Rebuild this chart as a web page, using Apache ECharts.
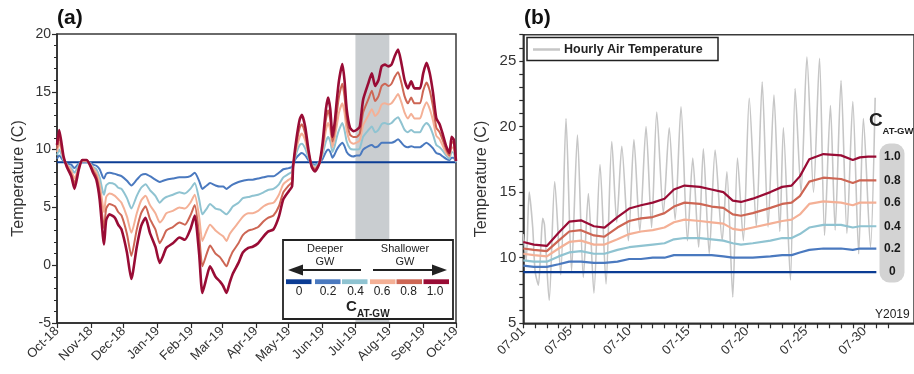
<!DOCTYPE html>
<html>
<head>
<meta charset="utf-8">
<script src="https://cdn.jsdelivr.net/npm/echarts@6/dist/echarts.min.js"></script>
<style>
  html, body { margin: 0; padding: 0; background: #fff; }
  #main { width: 914px; height: 374px; }
</style>
</head>
<body>
<div id="main"></div>
<script>
// ---- panel (a): daily series, x = days since 2018-10-01 ----
const monthStart = [0, 31, 61, 92, 123, 151, 182, 212, 243, 273, 304, 335, 365];
const monthNames = ['Oct-18', 'Nov-18', 'Dec-18', 'Jan-19', 'Feb-19', 'Mar-19', 'Apr-19',
  'May-19', 'Jun-19', 'Jul-19', 'Aug-19', 'Sep-19', 'Oct-19'];
const bandDays = [273, 304]; // Jul-19 .. Aug-19 shaded
const gwTemp = 8.9;

const daysA = [0, 2, 6, 9, 13, 16, 20, 23, 27, 30, 33, 36, 39, 42, 43, 45, 48, 53, 56, 59,
  64, 68, 73, 77, 81, 85, 90, 94, 97, 100, 106, 112, 117, 122, 126, 130, 133, 137, 140, 145,
  149, 152, 155, 158, 161, 166, 170, 175, 179, 184, 189, 193, 198, 203, 207, 212, 215, 216, 219, 222,
  224, 227, 230, 233, 236, 240, 243, 246, 248, 250, 252, 254, 256, 258, 261, 263, 265, 268, 271, 274,
  277, 280, 285, 288, 291, 294, 297, 300, 303, 306, 309, 312, 315, 318, 321, 324, 327, 332, 335, 338,
  341, 344, 347, 350, 353, 356, 359, 361, 363, 365];

const a02 = [9.2, 9.5, 9.0, 8.8, 8.7, 8.4, 8.8, 8.9, 8.9, 8.9, 8.7, 8.6, 8.3, 7.6, 7.5, 7.9, 8.0, 7.9, 7.8, 7.7,
  7.3, 6.9, 7.4, 7.8, 7.9, 7.7, 7.4, 7.2, 7.3, 7.4, 7.5, 7.6, 7.6, 7.7, 8.0, 7.3, 6.6, 6.9, 7.1, 6.9,
  6.8, 6.8, 6.6, 6.8, 7.0, 7.2, 7.3, 7.4, 7.4, 7.5, 7.6, 7.7, 7.7, 8.0, 8.3, 8.4, 8.5, 8.8, 9.3, 9.6,
  9.7, 9.5, 9.1, 8.8, 8.7, 8.9, 9.2, 9.8, 10.0, 9.8, 9.3, 9.6, 10.0, 10.3, 10.6, 10.3, 9.8, 9.5, 9.4, 9.5,
  9.5, 10.0, 10.3, 10.4, 10.2, 10.3, 10.6, 10.6, 10.6, 10.6, 10.7, 10.9, 10.6, 10.3, 10.2, 10.3, 10.2, 10.2, 10.4, 10.6,
  10.4, 10.1, 9.7, 9.6, 9.4, 9.2, 9.1, 9.3, 9.3, 8.9];
const a04 = [9.5, 10.0, 9.1, 8.7, 8.4, 8.0, 8.7, 9.0, 9.0, 8.8, 8.5, 8.3, 7.6, 6.3, 6.1, 6.9, 7.1, 7.0, 6.7, 6.6,
  5.8, 4.9, 6.0, 6.7, 7.0, 6.5, 6.0, 5.4, 5.7, 5.9, 6.1, 6.3, 6.2, 6.6, 7.1, 5.7, 4.4, 4.9, 5.3, 4.9,
  4.8, 4.6, 4.4, 4.7, 5.1, 5.4, 5.8, 5.9, 6.0, 6.1, 6.3, 6.5, 6.6, 7.0, 7.6, 7.9, 8.1, 8.7, 9.7, 10.4,
  10.5, 10.1, 9.3, 8.7, 8.6, 8.9, 9.6, 10.7, 11.1, 10.7, 9.8, 10.3, 11.1, 11.7, 12.3, 11.7, 10.7, 10.1, 10.0, 10.0,
  10.1, 11.1, 11.7, 12.0, 11.5, 11.7, 12.2, 12.3, 12.2, 12.3, 12.6, 12.8, 12.3, 11.7, 11.5, 11.7, 11.5, 11.5, 12.0, 12.3,
  12.0, 11.3, 10.4, 10.2, 9.9, 9.5, 9.2, 9.8, 9.7, 8.9];
const a06 = [9.8, 10.6, 9.2, 8.7, 8.2, 7.5, 8.5, 9.0, 9.0, 8.8, 8.4, 8.0, 7.0, 5.1, 4.6, 5.9, 6.2, 6.0, 5.7, 5.4,
  4.2, 2.8, 4.5, 5.6, 6.0, 5.2, 4.5, 3.7, 4.0, 4.5, 4.7, 5.0, 4.9, 5.4, 6.1, 4.2, 2.1, 3.0, 3.5, 3.0,
  2.7, 2.5, 2.1, 2.7, 3.1, 3.7, 4.2, 4.5, 4.5, 4.7, 5.1, 5.3, 5.4, 6.1, 7.0, 7.4, 7.6, 8.7, 10.1, 11.1,
  11.4, 10.8, 9.6, 8.7, 8.4, 8.8, 9.9, 11.7, 12.3, 11.7, 10.2, 11.0, 12.1, 13.2, 14.0, 13.2, 11.7, 10.7, 10.5, 10.6,
  10.8, 12.1, 13.0, 13.5, 12.9, 13.2, 13.9, 14.0, 13.9, 14.0, 14.4, 14.8, 14.1, 13.2, 12.7, 13.1, 12.7, 12.7, 13.5, 14.1,
  13.5, 12.5, 11.2, 10.9, 10.3, 9.7, 9.4, 10.2, 10.1, 9.0];
const a08 = [10.1, 11.1, 9.3, 8.6, 7.9, 7.1, 8.4, 9.1, 9.1, 8.7, 8.2, 7.7, 6.3, 3.8, 3.2, 4.9, 5.3, 5.1, 4.6, 4.3,
  2.7, 0.8, 3.1, 4.5, 5.1, 4.0, 3.1, 1.9, 2.4, 3.0, 3.3, 3.7, 3.5, 4.3, 5.2, 2.6, -0.1, 1.0, 1.7, 1.0,
  0.7, 0.3, -0.1, 0.6, 1.2, 1.9, 2.6, 3.0, 3.1, 3.3, 3.8, 4.1, 4.3, 5.1, 6.3, 6.9, 7.2, 8.6, 10.5, 11.9,
  12.2, 11.4, 9.8, 8.6, 8.3, 8.8, 10.3, 12.6, 13.4, 12.6, 10.7, 11.6, 13.2, 14.6, 15.7, 14.6, 12.6, 11.3, 11.1, 11.1,
  11.4, 13.2, 14.4, 15.1, 14.2, 14.6, 15.5, 15.7, 15.5, 15.7, 16.3, 16.7, 15.8, 14.6, 14.0, 14.5, 14.0, 14.0, 15.1, 15.8,
  15.1, 13.7, 11.9, 11.5, 10.8, 10.0, 9.5, 10.7, 10.5, 9.0];
const a10 = [10.4, 11.7, 9.4, 8.5, 7.7, 6.6, 8.3, 9.1, 9.1, 8.7, 8.0, 7.4, 5.7, 2.5, 1.8, 3.9, 4.4, 4.1, 3.5, 3.1,
  1.1, -1.2, 1.6, 3.4, 4.1, 2.8, 1.6, 0.2, 0.8, 1.5, 1.9, 2.4, 2.2, 3.1, 4.3, 1.0, -2.4, -1.0, -0.1, -1.0,
  -1.4, -1.8, -2.4, -1.5, -0.7, 0.2, 1.1, 1.5, 1.6, 1.9, 2.5, 2.9, 3.1, 4.2, 5.7, 6.4, 6.8, 8.5, 10.9, 12.6,
  13.0, 12.0, 10.0, 8.5, 8.1, 8.8, 10.6, 13.5, 14.5, 13.5, 11.1, 12.3, 14.3, 16.0, 17.4, 16.0, 13.5, 11.9, 11.6, 11.7,
  12.0, 14.3, 15.8, 16.6, 15.5, 16.0, 17.2, 17.35, 17.2, 17.35, 18.1, 18.65, 17.5, 16.0, 15.3, 15.9, 15.3, 15.3, 16.6, 17.5,
  16.6, 14.9, 12.7, 12.2, 11.3, 10.3, 9.7, 11.1, 10.85, 9.0];

// ---- panel (b): July 2019, x = day of month ----
const dayTicks = [1, 2, 3, 4, 5, 6, 7, 8, 9, 10, 11, 12, 13, 14, 15, 16, 17, 18, 19, 20,
  21, 22, 23, 24, 25, 26, 27, 28, 29, 30, 31, 32];
const dayLabels = [1, 5, 10, 15, 20, 25, 30];
const tempTicksB = [5, 6, 7, 8, 9, 10, 11, 12, 13, 14, 15, 16, 17, 18, 19, 20, 21, 22, 23, 24, 25, 26, 27];
const tempLabelsB = [5, 10, 15, 20, 25];
const daysB = [1.0, 1.9, 3.0, 4.0, 4.9, 5.9, 7.0, 7.9, 9.0, 10.0, 11.0, 12.0, 13.0, 13.8, 14.7, 16.0,
  17.0, 18.0, 18.8, 19.5, 20.5, 22.0, 23.0, 23.8, 24.5, 25.3, 26.5, 28.0, 29.0, 29.6, 30.3, 31.0];
const b02 = [9.4, 9.3, 9.3, 9.5, 9.7, 9.7, 9.6, 9.6, 9.7, 9.9, 9.9, 10.0, 10.0, 10.2, 10.2, 10.2,
  10.2, 10.1, 10.0, 10.0, 10.0, 10.1, 10.2, 10.2, 10.4, 10.6, 10.7, 10.7, 10.6, 10.7, 10.7, 10.7];
const b04 = [9.8, 9.7, 9.7, 10.1, 10.4, 10.5, 10.3, 10.3, 10.6, 10.8, 10.9, 11.0, 11.1, 11.4, 11.5, 11.5,
  11.4, 11.3, 11.1, 11.0, 11.1, 11.3, 11.5, 11.5, 11.8, 12.3, 12.5, 12.5, 12.3, 12.4, 12.4, 12.4];
const b06 = [10.3, 10.2, 10.1, 10.7, 11.2, 11.3, 11.0, 11.0, 11.4, 11.8, 12.0, 12.1, 12.3, 12.7, 12.9, 12.8,
  12.7, 12.6, 12.2, 12.1, 12.3, 12.6, 12.8, 12.9, 13.3, 14.1, 14.3, 14.2, 14.0, 14.2, 14.2, 14.2];
const b08 = [10.7, 10.6, 10.5, 11.3, 12.0, 12.1, 11.7, 11.6, 12.3, 12.8, 13.0, 13.1, 13.4, 13.9, 14.2, 14.1,
  13.9, 13.8, 13.3, 13.2, 13.4, 13.8, 14.1, 14.2, 14.7, 15.8, 16.1, 16.0, 15.7, 15.9, 15.9, 15.9];
const b10 = [11.2, 11.0, 10.9, 11.9, 12.75, 12.85, 12.4, 12.3, 13.1, 13.75, 14.0, 14.2, 14.5, 15.2, 15.5, 15.4,
  15.2, 15.0, 14.35, 14.25, 14.5, 15.0, 15.4, 15.5, 16.2, 17.5, 17.9, 17.8, 17.45, 17.65, 17.7, 17.7];

// hourly air temperature, daily highs and lows (day of month, value)
const airDay = [1.0, 1.25, 1.5, 1.8, 2.0, 2.28, 2.5, 2.65, 2.8, 3.2, 3.67, 4.18, 4.63, 5.1, 5.6, 6.1, 6.53, 7.0,
  7.52, 8.03, 8.52, 8.94, 9.37, 9.93, 10.4, 10.9, 11.43, 11.9, 12.34, 12.9, 13.4, 13.9, 14.4, 14.95, 15.4, 15.9,
  16.3, 16.8, 17.3, 17.9, 18.3, 18.8, 19.2, 19.7, 20.2, 20.8, 21.3, 21.8, 22.3, 22.8, 23.1, 23.7, 24.1, 24.6,
  25.1, 25.66, 26.17, 26.6, 27.1, 27.5, 28.0, 28.5, 29.0, 29.5, 29.9, 30.5, 30.9];
const airTemp = [11.8, 9.8, 15.0, 12.3, 9.0, 7.9, 11.0, 13.0, 12.5, 6.75, 15.8, 8.7, 20.6, 9.0, 19.35, 8.5, 14.9, 7.3,
  17.1, 8.0, 18.85, 12.7, 18.5, 11.3, 19.0, 12.0, 20.0, 12.3, 21.1, 13.4, 19.9, 12.9, 21.5, 11.3, 17.6, 10.8,
  18.3, 10.3, 18.2, 11.3, 16.55, 7.0, 17.6, 11.3, 22.15, 12.35, 23.4, 12.35, 22.4, 12.0, 19.9, 8.3, 22.9, 15.0,
  25.3, 15.0, 25.2, 11.7, 21.6, 12.1, 23.5, 11.85, 21.9, 10.3, 20.6, 10.8, 22.2];

const cNames = ['0', '0.2', '0.4', '0.6', '0.8', '1.0'];
const colors = ['#0b3c94', '#4a79bf', '#8fc3d1', '#f4b096', '#cd6654', '#990c35'];

const FONT = 'Liberation Sans, Arial, sans-serif';
const axisColor = '#2a2a2a';
const labelColor = '#333';

const pair = (xs, ys) => xs.map((x, i) => [x, ys[i]]);

const chart = echarts.init(document.getElementById('main'));

const endLabel = {
  show: true, formatter: '{a}', align: 'center', distance: 16,
  fontFamily: FONT, fontSize: 12, fontWeight: 'bold', color: '#1a1a1a'
};

const seriesA = [a02, a04, a06, a08, a10].map((arr, i) => ({
  name: 'a ' + cNames[i + 1],
  type: 'line',
  xAxisIndex: 0, yAxisIndex: 0,
  showSymbol: false,
  smooth: 0.2,
  data: pair(daysA, arr),
  lineStyle: { color: colors[i + 1], width: i === 4 ? 2.6 : 2 },
  z: 11 + i
}));

const seriesB = [b02, b04, b06, b08, b10].map((arr, i) => ({
  name: cNames[i + 1],
  type: 'line',
  xAxisIndex: 1, yAxisIndex: 1,
  showSymbol: false,
  data: pair(daysB, arr),
  lineStyle: { color: colors[i + 1], width: 2.2 },
  endLabel: endLabel,
  z: 11 + i
}));

const topZ = 60;
const txt = (x, y, text, font, align) => ({
  type: 'text', z: topZ + 1,
  style: { x: x, y: y, text: text, font: font + ' ' + FONT, fill: '#222', align: align || 'left', verticalAlign: 'middle' }
});

const graphics = [
  // panel titles
  { type: 'text', z: topZ, left: 57, top: 8, style: { text: '(a)', font: 'bold 21px ' + FONT, fill: '#111' } },
  { type: 'text', z: topZ, left: 524, top: 8, style: { text: '(b)', font: 'bold 21px ' + FONT, fill: '#111' } },
  // panel (a) legend box
  { type: 'rect', z: topZ, shape: { x: 283, y: 240, width: 170, height: 79 }, style: { fill: '#fff', stroke: '#222', lineWidth: 1.8 } },
  txt(325, 249, 'Deeper', '11px', 'center'),
  txt(325, 262, 'GW', '11px', 'center'),
  txt(405, 249, 'Shallower', '11px', 'center'),
  txt(405, 262, 'GW', '11px', 'center'),
  { type: 'line', z: topZ + 1, shape: { x1: 300, y1: 270, x2: 361, y2: 270 }, style: { stroke: '#222', lineWidth: 1.8 } },
  { type: 'polygon', z: topZ + 1, shape: { points: [[288, 270], [303, 264.5], [303, 275.5]] }, style: { fill: '#222' } },
  { type: 'line', z: topZ + 1, shape: { x1: 373, y1: 270, x2: 434, y2: 270 }, style: { stroke: '#222', lineWidth: 1.8 } },
  { type: 'polygon', z: topZ + 1, shape: { points: [[447, 270], [432, 264.5], [432, 275.5]] }, style: { fill: '#222' } },
  ...[286, 315, 342, 370, 396.5, 423.5].map((x, i) => ({
    type: 'rect', z: topZ + 1, shape: { x: x, y: 279.3, width: 25.5, height: 4.8 }, style: { fill: colors[i] }
  })),
  ...[299, 328, 355.5, 382, 408.5, 435].map((x, i) => txt(x, 292, cNames[i], '12px', 'center')),
  txt(346, 307, 'C', 'bold 15px'),
  txt(357, 314, 'AT-GW', 'bold 10px'),
  // panel (b) air temperature legend
  { type: 'rect', z: topZ, shape: { x: 527, y: 37.5, width: 191, height: 23 }, style: { fill: '#fff', stroke: '#222', lineWidth: 1.5 } },
  { type: 'line', z: topZ + 1, shape: { x1: 533, y1: 49.5, x2: 560, y2: 49.5 }, style: { stroke: '#c6c6c6', lineWidth: 2.5 } },
  txt(564, 49.5, 'Hourly Air Temperature', 'bold 12.5px'),
  // panel (b) C labels
  { type: 'rect', z: 1, shape: { x: 879.5, y: 143.5, width: 25, height: 139, r: 10 }, style: { fill: '#d3d3d3' } },
  txt(869, 121, 'C', 'bold 19px'),
  txt(882.5, 131, 'AT-GW', 'bold 9.5px'),
  txt(875, 315, 'Y2019', '12px')
];

const option = {
  animation: false,
  textStyle: { fontFamily: FONT },
  grid: [
    { left: 57, top: 34, width: 399, height: 289, show: true, borderColor: '#3a3a3a', borderWidth: 1.5, backgroundColor: 'transparent' },
    { left: 523.3, top: 34.7, right: 0, bottom: 50.7, show: true, borderColor: '#3a3a3a', borderWidth: 1.5, backgroundColor: 'transparent' }
  ],
  xAxis: [
    {
      gridIndex: 0, type: 'value', min: 0, max: 365,
      axisLine: { onZero: false, lineStyle: { color: axisColor, width: 1.5 } },
      axisTick: { customValues: monthStart, length: 5, lineStyle: { color: axisColor, width: 1.2 } },
      axisLabel: {
        customValues: monthStart, rotate: 45, margin: 6, fontSize: 13, color: labelColor,
        formatter: v => monthNames[monthStart.indexOf(v)]
      },
      splitLine: { show: false }
    },
    {
      gridIndex: 1, type: 'value', min: 1, max: 34.2,
      axisLine: { onZero: false, lineStyle: { color: axisColor, width: 1.5 } },
      axisTick: { customValues: dayTicks, length: 5, lineStyle: { color: axisColor, width: 1.2 } },
      axisLabel: {
        customValues: dayLabels, rotate: 45, margin: 6, fontSize: 13, color: labelColor,
        formatter: v => '07-' + String(v).padStart(2, '0')
      },
      splitLine: { show: false }
    }
  ],
  yAxis: [
    {
      gridIndex: 0, type: 'value', min: -5, max: 20, interval: 5,
      name: 'Temperature (C)', nameLocation: 'middle', nameGap: 30,
      nameTextStyle: { fontSize: 16, color: labelColor },
      axisLine: { show: true, onZero: false, lineStyle: { color: axisColor, width: 1.5 } },
      axisTick: { show: true, length: 5, lineStyle: { color: axisColor, width: 1.2 } },
      minorTick: { show: true, splitNumber: 5, length: 3, lineStyle: { color: axisColor, width: 1 } },
      axisLabel: { fontSize: 14, color: labelColor, margin: 6 },
      splitLine: { show: false }
    },
    {
      gridIndex: 1, type: 'value', min: 5, max: 27,
      name: 'Temperature (C)', nameLocation: 'middle', nameGap: 34,
      nameTextStyle: { fontSize: 16, color: labelColor },
      axisLine: { show: true, onZero: false, lineStyle: { color: axisColor, width: 1.5 } },
      axisTick: { show: true, customValues: tempTicksB, length: 4, lineStyle: { color: axisColor, width: 1.2 } },
      axisLabel: { customValues: tempLabelsB, fontSize: 15, color: labelColor, margin: 7 },
      splitLine: { show: false }
    }
  ],
  series: [
    {
      name: 'a 0', type: 'line', xAxisIndex: 0, yAxisIndex: 0, showSymbol: false,
      data: [[0, gwTemp], [365, gwTemp]],
      lineStyle: { color: colors[0], width: 2 }, z: 10
    },
    ...seriesA,
    {
      name: 'Hourly Air Temperature', type: 'line', xAxisIndex: 1, yAxisIndex: 1, showSymbol: false,
      smooth: 0.25,
      data: pair(airDay, airTemp),
      lineStyle: { color: '#c6c6c6', width: 1.6 }, z: 5
    },
    {
      name: '0', type: 'line', xAxisIndex: 1, yAxisIndex: 1, showSymbol: false,
      data: [[1, gwTemp], [31, gwTemp]],
      lineStyle: { color: colors[0], width: 2.2 }, z: 10,
      endLabel: endLabel
    },
    ...seriesB
  ],
  graphic: graphics
};

chart.setOption(option);

// shaded Jul-19 period: placed through panel (a)'s own axis scales, kept under the lines
const pTop = chart.convertToPixel({ xAxisIndex: 0, yAxisIndex: 0 }, [bandDays[0], 20]);
const pBot = chart.convertToPixel({ xAxisIndex: 0, yAxisIndex: 0 }, [bandDays[1], -5]);
graphics.push({
  type: 'rect', z: -10, silent: true,
  shape: { x: pTop[0], y: pTop[1], width: pBot[0] - pTop[0], height: pBot[1] - pTop[1] },
  style: { fill: '#c9cdd0' }
});
chart.setOption({ graphic: graphics });
</script>
</body>
</html>
